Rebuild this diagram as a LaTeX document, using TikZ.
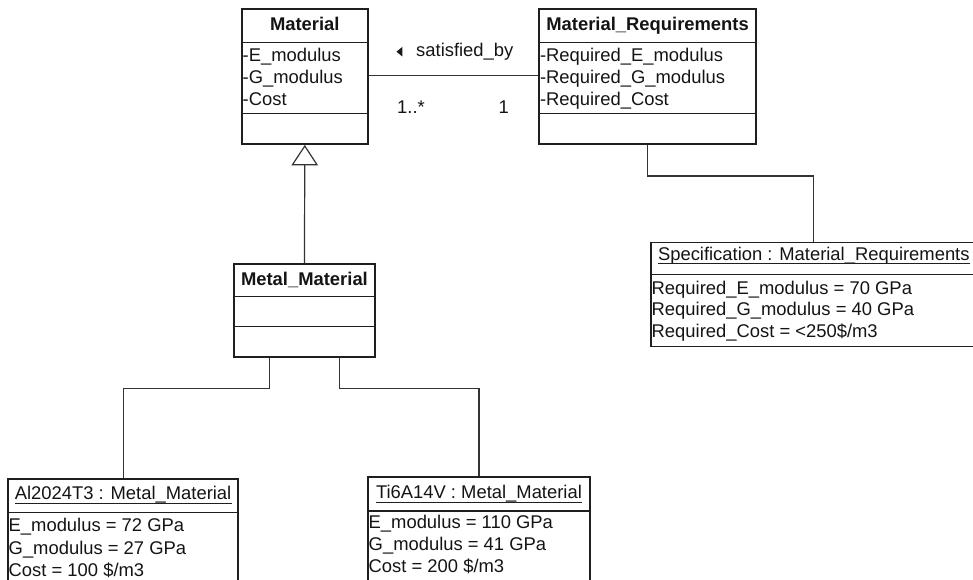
\documentclass[tikz,border=0pt]{standalone}
\usepackage{fontspec}
\setmainfont{Liberation Sans}
\usetikzlibrary{calc,arrows.meta}

\tikzset{
  umlfont/.style={font=\fontsize{18.4}{22}\selectfont},
  classbox/.style={draw=black!88, line width=1.6pt, anchor=north west, inner sep=0pt},
  divider/.style={draw=black!88, line width=1.4pt},
  conn/.style={draw=black!80, line width=1.2pt},
  title/.style={umlfont, font=\fontsize{18.4}{22}\selectfont\bfseries, anchor=base, inner sep=0pt, text=black!92},
  attr/.style={umlfont, anchor=base west, inner sep=0pt, text=black!92},
  objtitle/.style={umlfont, anchor=base, inner sep=0pt, text=black!92},
  uline/.style={draw=black!88, line width=1.1pt},
  lbl/.style={umlfont, anchor=base west, inner sep=0pt, text=black!92}
}

\begin{document}
\begin{tikzpicture}[x=1pt,y=-1pt]
\clip (0,0) rectangle (973,580);

% ---------------- class Material ----------------
\node[classbox, minimum width=126pt, minimum height=135pt] (mat) at (241,8.3) {};
\draw[divider] ($(mat.north west)+(0,34)$) -- ($(mat.north east)+(0,34)$);
\draw[divider] ($(mat.north west)+(0,105.4)$) -- ($(mat.north east)+(0,105.4)$);
\node[title] (matT) at ($(mat.north)+(0,22.4)$) {Material};
\node[attr] (matA1) at (242.5,61.7) {-E\_modulus};
\node[attr] (matA2) at (242.5,83.9) {-G\_modulus};
\node[attr] (matA3) at (242.5,106) {-Cost};

% ---------------- class Material_Requirements ----------------
\node[classbox, minimum width=217pt, minimum height=135pt] (req) at (538.3,8.3) {};
\draw[divider] ($(req.north west)+(0,34)$) -- ($(req.north east)+(0,34)$);
\draw[divider] ($(req.north west)+(0,105.4)$) -- ($(req.north east)+(0,105.4)$);
\node[title] (reqT) at ($(req.north)+(0,22.4)$) {Material\_Requirements};
\node[attr] (reqA1) at (539.8,61.7) {-Required\_E\_modulus};
\node[attr] (reqA2) at (539.8,83.9) {-Required\_G\_modulus};
\node[attr] (reqA3) at (539.8,106) {-Required\_Cost};

% association between the two classes
\coordinate (assocY) at (450,75.7);
\draw[conn] (mat.east |- assocY) -- (req.west |- assocY);
\fill[black!90] (396.5,51.7) -- (402.3,46.9) -- (402.3,56.5) -- cycle;
\node[lbl] (assocName) at (416,56.7) {satisfied\_by};
\node[lbl] (multMat) at (397,113.3) {1..*};
\node[lbl] (multReq) at (498.5,113.3) {1};

% ---------------- class Metal_Material ----------------
\node[classbox, minimum width=140.7pt, minimum height=92.7pt] (metal) at (233.3,263.3) {};
\draw[divider] ($(metal.north west)+(0,33.4)$) -- ($(metal.north east)+(0,33.4)$);
\draw[divider] ($(metal.north west)+(0,63.4)$) -- ($(metal.north east)+(0,63.4)$);
\node[title] (metalT) at ($(metal.north)+(0,22.4)$) {Metal\_Material};

% generalization
\draw[conn, -{Triangle[open, length=20.5pt, width=26.6pt, line width=1.2pt]}] (metal.north) -- (mat.south);

% ---------------- object Specification ----------------
\node[classbox, minimum width=326pt, minimum height=104pt] (spec) at (650,241.7) {};
\draw[divider] ($(spec.north west)+(0,32.6)$) -- ($(spec.north east)+(0,32.6)$);
\node[objtitle] (specT) at ($(spec.north)+(0,18.5)$) {Specification : Material\_Requirements};
\draw[uline] ($(specT.base west)+(0,3.6)$) -- ($(specT.base east)+(0,3.6)$);
\node[attr] (specA1) at (651.5,294) {Required\_E\_modulus = 70 GPa};
\node[attr] (specA2) at (651.5,315.8) {Required\_G\_modulus = 40 GPa};
\node[attr] (specA3) at (651.5,337.5) {Required\_Cost = <250\$/m3};

\draw[conn] (req.south) -- ++(0,31) -| (spec.north);

% ---------------- object Al2024T3 ----------------
\node[classbox, minimum width=230pt, minimum height=130pt] (al) at (7.3,478.3) {};
\draw[divider] ($(al.north west)+(0,34)$) -- ($(al.north east)+(0,34)$);
\node[objtitle] (alT) at ($(al.north)+(0,21)$) {Al2024T3 : Metal\_Material};
\draw[uline] ($(alT.base west)+(0,3.8)$) -- ($(alT.base east)+(0,3.8)$);
\node[attr] (alA1) at (8.5,531.7) {E\_modulus = 72 GPa};
\node[attr] (alA2) at (8.5,554) {G\_modulus = 27 GPa};
\node[attr] (alA3) at (8.5,576) {Cost = 100 \$/m3};

% ---------------- object Ti6A14V ----------------
\node[classbox, minimum width=221.7pt, minimum height=130pt] (ti) at (367.3,476) {};
\draw[divider] ($(ti.north west)+(0,35)$) -- ($(ti.north east)+(0,35)$);
\node[objtitle] (tiT) at ($(ti.north)+(0,22.3)$) {Ti6A14V : Metal\_Material};
\draw[uline] ($(tiT.base west)+(0,3.8)$) -- ($(tiT.base east)+(0,3.8)$);
\node[attr] (tiA1) at (368.5,528.3) {E\_modulus = 110 GPa};
\node[attr] (tiA2) at (368.5,550.7) {G\_modulus = 41 GPa};
\node[attr] (tiA3) at (368.5,572.5) {Cost = 200 \$/m3};

% instance links from Metal_Material
\draw[conn] ($(metal.south)+(-34.7,0)$) -- ++(0,30.7) -| (al.north);
\draw[conn] ($(metal.south)+(35.3,0)$) -- ++(0,30.7) -| (ti.north);
\end{tikzpicture}
\end{document}
